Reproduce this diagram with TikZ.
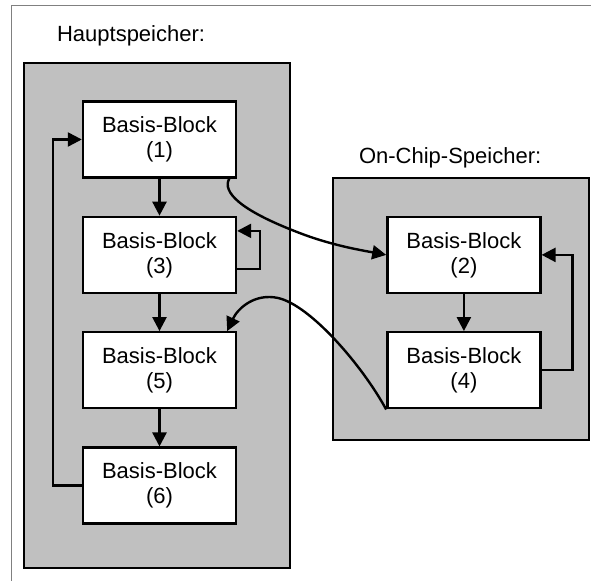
\documentclass[tikz,border=0pt]{standalone}
\usepackage{fontspec}
\setmainfont{Liberation Sans}
\usetikzlibrary{arrows.meta,positioning,calc}
\definecolor{memgray}{RGB}{192,192,192}

\begin{document}
\begin{tikzpicture}[x=0.5pt, y=-0.5pt, >={Triangle[length=7pt,width=7pt]},
    block/.style={draw, rectangle, fill=white, line width=1.2pt, minimum width=76.5pt,
                  minimum height=38pt, inner sep=0pt, align=center,
                  font=\fontsize{11}{12.5}\selectfont},
    memory/.style={draw, fill=memgray, line width=1.2pt},
    flow/.style={->, line width=1.2pt},
    title/.style={anchor=base west, font=\fontsize{11}{13}\selectfont}]
    \useasboundingbox (0,0) rectangle (591,581);
    \draw[gray, line width=0.5pt] (591,6) -- (12,6) -- (12,581);

    % the two memories
    \node[title] (hs) at (50,42) {Hauptspeicher:};
    \node[title] (ocs) at (352,164) {On-Chip-Speicher:};
    \draw[memory] (24,63) rectangle (290,568);
    \draw[memory] (333,178) rectangle (589,440);

    % basic blocks
    \node[block] (b1) at (159.5,139.5) {Basis-Block\\(1)};
    \node[block, below=18.5pt of b1] (b3) {Basis-Block\\(3)};
    \node[block, below=18.5pt of b3] (b5) {Basis-Block\\(5)};
    \node[block, below=18.5pt of b5] (b6) {Basis-Block\\(6)};
    \node[block, right=74.5pt of b3] (b2) {Basis-Block\\(2)};
    \node[block, below=18.5pt of b2] (b4) {Basis-Block\\(4)};

    \draw[flow] (b1) -- (b3);
    \draw[flow] (b3) -- (b5);
    \draw[flow] (b5) -- (b6);
    \draw[flow] (b2) -- (b4);

    % loops
    \draw[flow] (b6.west) -- ++(-29,0) |- (b1.west);
    \draw[flow] ($(b3.east)+(0,14)$) -- ++(23,0) |- ($(b3.east)+(0,-24)$);
    \draw[flow] (b4.east) -- ++(31,0) |- (b2.east);

    % jumps between the memories
    \draw[flow] ($(b1.south east)+(-8,0)$) .. controls (222,192) and (240,210) .. (297,232)
        .. controls (330,245) and (360,250) .. (b2.west);
    \draw[flow] (b4.south west) .. controls (362,365) and (310,305) .. (278,298)
        .. controls (255,293) and (238,308) .. ($(b5.north east)+(-10,0)$);
\end{tikzpicture}
\end{document}
